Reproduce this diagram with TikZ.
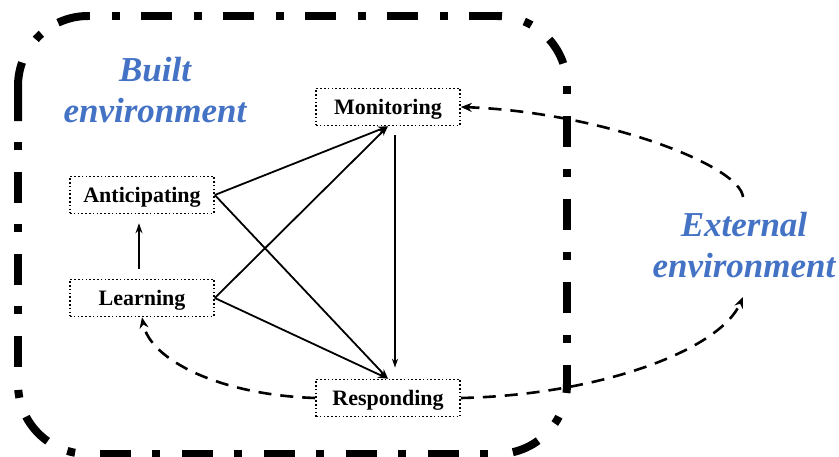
\documentclass[tikz,border=0pt]{standalone}
\usepackage{fontspec}
\setmainfont{Liberation Serif}
\usetikzlibrary{arrows.meta}
\definecolor{envblue}{HTML}{4472C4}
\begin{document}
\begin{tikzpicture}[x=1pt,y=-1pt,
  stage/.style={draw, line width=1.6pt, dash pattern=on 1.6pt off 2.2pt,
    minimum width=144pt, minimum height=37pt, inner sep=0pt, text depth=0pt,
    font=\fontsize{22}{26}\selectfont\bfseries},
  envlabel/.style={text=envblue, font=\fontsize{35}{41}\selectfont\bfseries\itshape,
    anchor=base, inner sep=0pt},
  link/.style={line width=1.8pt, -{Stealth[length=10pt,width=7pt]}},
  flow/.style={line width=2.6pt, dash pattern=on 13pt off 9pt,
    -{Stealth[length=11pt,width=9pt]}},
  boundary/.style={line width=8pt},
  dashdot/.style={boundary, dash pattern=on 31pt off 22pt on 8pt off 21pt}]
\useasboundingbox (0,0) rectangle (839,457);

% built environment boundary: dash-dot sides and rounded corners
\draw[dashdot, dash phase=29pt] (88,16) -- (497,16);
\draw[boundary, dash pattern=on 5pt off 23pt on 8pt off 23pt on 28pt off 23pt]
  (497,16) arc[start angle=-90, end angle=0, radius=70];
\draw[boundary, dash pattern=on 31pt off 22pt on 8pt off 22pt, dash phase=53pt]
  (567,86) -- (567,384);
\draw[boundary, dash pattern=on 9pt off 25pt on 8pt off 24pt on 28pt off 16pt]
  (567,384) arc[start angle=0, end angle=90, radius=70];
\draw[dashdot, dash phase=44pt] (497,454) -- (88,454);
\draw[boundary, dash pattern=on 0pt off 13pt on 8pt off 22pt on 33pt off 20pt on 8pt off 6pt]
  (88,454) arc[start angle=90, end angle=180, radius=70];
\draw[dashdot, dash phase=65pt] (18,384) -- (18,121);
\draw[boundary, dash pattern=on 59pt off 27pt on 8pt off 20pt on 31pt off 10pt]
  (18,121) -- (18,86) arc[start angle=180, end angle=270, radius=70];

% labels
\node[envlabel] (builtA) at (155,82) {Built};
\node[envlabel] (builtB) at (155,123) {environment};
\node[envlabel] (extA) at (744,237) {External};
\node[envlabel] (extB) at (744,278) {environment};

% the four abilities
\node[stage] (monit) at (388,107) {Monitoring};
\node[stage] (antic) at (142,195) {Anticipating};
\node[stage] (learn) at (142,298) {Learning};
\node[stage] (resp)  at (388,398) {Responding};

\coordinate (extTop) at (743,197);
\coordinate (extBot) at (743,297);

% internal links
\draw[link, shorten <=10pt, shorten >=9pt] ([xshift=-3pt]learn.north) -- ([xshift=-3pt]antic.south);
\draw[link] (antic.east) -- (monit.south);
\draw[link] (antic.east) -- (resp.north);
\draw[link] (learn.east) -- (monit.south);
\draw[link] (learn.east) -- (resp.north);
\draw[line width=1.4pt, -{Stealth[length=9pt,width=6pt]}, shorten <=9pt, shorten >=11pt]
  ([xshift=7pt]monit.south) -- ([xshift=7pt]resp.north);

% exchanges with the external environment
\draw[flow] (extTop) .. controls (740,165) and (600,112) .. (monit.east);
\draw[flow] (resp.east) .. controls (600,395) and (720,350) .. (extBot);
\draw[flow] (resp.west) .. controls (220,395) and (150,360) .. (learn.south);
\end{tikzpicture}
\end{document}
